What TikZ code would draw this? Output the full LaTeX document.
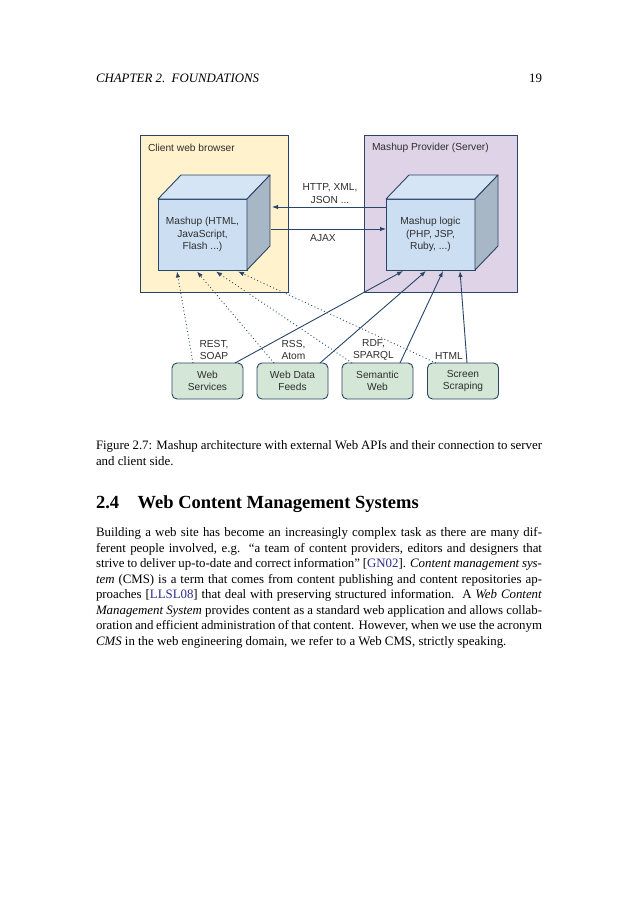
\documentclass[tikz,border=0pt]{standalone}
\usepackage{fontspec}
\setmainfont{Liberation Serif}
\setsansfont{Liberation Sans}
\usepackage{xcolor}
\usetikzlibrary{arrows.meta}

\definecolor{edgeblue}{HTML}{2A4568}
\definecolor{labelgray}{HTML}{2E2E2E}
\definecolor{clientfill}{HTML}{FFF2CC}
\definecolor{serverfill}{HTML}{DFD3E8}
\definecolor{cubefront}{HTML}{CCDFF2}
\definecolor{cubetop}{HTML}{D5E5F5}
\definecolor{cubeside}{HTML}{A8B7C6}
\definecolor{srcfill}{HTML}{D4E7D6}
\definecolor{citeblue}{HTML}{2B2B8C}

\newcommand{\jline}[1]{\makebox[446pt][s]{#1}}

\begin{document}
\begin{tikzpicture}[x=1pt,y=-1pt,
    every node/.style={inner sep=0pt,outer sep=0pt},
    lbl/.style={font=\sffamily\fontsize{10.2}{12.5}\selectfont,text=labelgray,align=center},
    area/.style={draw=edgeblue,line width=0.9pt},
    front/.style={lbl,draw=edgeblue,line width=0.9pt,fill=cubefront,
      minimum width=89pt,minimum height=71pt},
    src/.style={lbl,draw=edgeblue,line width=0.9pt,fill=srcfill,rounded corners=5pt,
      minimum width=71pt,minimum height=36pt},
    arr/.style={draw=edgeblue,line width=0.9pt,-{Latex[length=6pt,width=4.5pt]}},
    dots/.style={arr,dash pattern=on 0.9pt off 2.6pt},
    body/.style={font=\fontsize{12.86}{15.5}\selectfont,anchor=base west}]
  \useasboundingbox (0,0) rectangle (638,903);
  \fill[white] (0,0) rectangle (638,903);

  %%%%%%%%%%%%%%%%%%%%%%%%%%%%%%%%%%%%%%%%%%%%%%%%%%%%%%%%%%%%%%%%%%%%%%%%%%
  %%% BEGIN: PAGE HEAD.
  %%%%%%%%%%%%%%%%%%%%%%%%%%%%%%%%%%%%%%%%%%%%%%%%%%%%%%%%%%%%%%%%%%%%%%%%%%
  \node[body] (head) at (96,82.5) {\itshape CHAPTER 2.\ \ FOUNDATIONS};
  \node[body,anchor=base east] (pagenum) at (542,82.5) {19};
  %%%%%%%%%%%%%%%%%%%%%%%%%%%%%%%%%%%%%%%%%%%%%%%%%%%%%%%%%%%%%%%%%%%%%%%%%%
  %%% END: PAGE HEAD.
  %%%%%%%%%%%%%%%%%%%%%%%%%%%%%%%%%%%%%%%%%%%%%%%%%%%%%%%%%%%%%%%%%%%%%%%%%%

  %%%%%%%%%%%%%%%%%%%%%%%%%%%%%%%%%%%%%%%%%%%%%%%%%%%%%%%%%%%%%%%%%%%%%%%%%%
  %%% BEGIN: FIGURE.
  %%%%%%%%%%%%%%%%%%%%%%%%%%%%%%%%%%%%%%%%%%%%%%%%%%%%%%%%%%%%%%%%%%%%%%%%%%
  % Client and server areas.
  \filldraw[area,fill=clientfill] (140,135) rectangle (288,292);
  \filldraw[area,fill=serverfill] (364,135) rectangle (517,292);
  \node[lbl,anchor=west] (clientlbl) at (148,148) {Client web browser};
  \node[lbl,anchor=west] (serverlbl) at (372,148) {Mashup Provider (Server)};

  % Cubes.
  \node[front] (mashup) at (202.5,234.5) {Mashup (HTML,\\JavaScript,\\Flash ...)};
  \node[front] (logic) at (430.5,234.5) {Mashup logic\\(PHP, JSP,\\Ruby, ...)};
  \foreach \c in {mashup,logic}{
    \filldraw[draw=edgeblue,line width=0.9pt,fill=cubetop,line join=round]
      (\c.north west) -- ++(23,-24) -- ++(89,0) -- (\c.north east) -- cycle;
    \filldraw[draw=edgeblue,line width=0.9pt,fill=cubeside,line join=round]
      (\c.north east) -- ++(23,-24) -- ++(0,71) -- (\c.south east) -- cycle;
  }

  % Client <-> server.
  \draw[arr] ([yshift=27.5pt]logic.west) -- ([xshift=25pt,yshift=27.5pt]mashup.east);
  \draw[arr] ([xshift=24pt,yshift=5.5pt]mashup.east) -- ([yshift=5.5pt]logic.west);
  \node[lbl] (httplbl) at (330,193.5) {HTTP, XML,\\JSON ...};
  \node[lbl] (ajaxlbl) at (323,238) {AJAX};

  % External sources.
  \foreach \n/\x/\t in {ws/207.5/{Web\\Services},feeds/292.5/{Web Data\\Feeds},
      sem/377.5/{Semantic\\Web},scrap/463/{Screen\\Scraping}}{
    \node[src] (\n) at (\x,381) {\t};
  }
  \node[lbl] (restlbl) at (214,350) {REST,\\SOAP};
  \node[lbl] (rsslbl) at (293.5,350) {RSS,\\Atom};
  \node[lbl] (rdflbl) at (373.5,350) {RDF,\\SPARQL};
  \node[lbl] (htmllbl) at (449,356) {HTML};

  % Dotted to the client.
  \draw[dots] ([xshift=-14.5pt]ws.north) -- ([xshift=-25.5pt,yshift=-1.5pt]mashup.south);
  \draw[dots] ([xshift=-18.5pt]feeds.north) -- ([xshift=-5.5pt,yshift=-1.5pt]mashup.south);
  \draw[dots] ([xshift=-25.5pt]sem.north) -- ([xshift=13.5pt,yshift=-1.5pt]mashup.south);
  \draw[dots] ([xshift=-27pt]scrap.north) -- ([xshift=35.5pt,yshift=-1.5pt]mashup.south);

  % Solid to the server.
  \draw[arr] ([xshift=27.5pt]ws.north) -- ([xshift=-27.5pt,yshift=-1pt]logic.south);
  \draw[arr] ([xshift=27.5pt]feeds.north) -- ([xshift=-4.5pt,yshift=-1pt]logic.south);
  \draw[arr] ([xshift=22.5pt]sem.north) -- ([xshift=12.5pt,yshift=-1pt]logic.south);
  \draw[arr] ([xshift=4pt]scrap.north) -- ([xshift=29.5pt,yshift=-1pt]logic.south);
  %%%%%%%%%%%%%%%%%%%%%%%%%%%%%%%%%%%%%%%%%%%%%%%%%%%%%%%%%%%%%%%%%%%%%%%%%%
  %%% END: FIGURE.
  %%%%%%%%%%%%%%%%%%%%%%%%%%%%%%%%%%%%%%%%%%%%%%%%%%%%%%%%%%%%%%%%%%%%%%%%%%

  %%%%%%%%%%%%%%%%%%%%%%%%%%%%%%%%%%%%%%%%%%%%%%%%%%%%%%%%%%%%%%%%%%%%%%%%%%
  %%% BEGIN: TEXT.
  %%%%%%%%%%%%%%%%%%%%%%%%%%%%%%%%%%%%%%%%%%%%%%%%%%%%%%%%%%%%%%%%%%%%%%%%%%
  \node[body] (cap1) at (96,449.8) {\jline{Figure 2.7: Mashup architecture with external Web APIs and their connection to server}};
  \node[body] (cap2) at (96,465.5) {and client side.};

  \node[body,font=\bfseries\fontsize{18.5}{22}\selectfont] (secnum) at (96,508.3) {2.4};
  \node[body,font=\bfseries\fontsize{18.5}{22}\selectfont] (sectitle) at (137.7,508.3) {Web Content Management Systems};

  \node[body] (par1) at (96,536.5) {\jline{Building a web site has become an increasingly complex task as there are many dif-}};
  \node[body] (par2) at (96,552) {\jline{ferent people involved, e.g.\ \ “a team of content providers, editors and designers that}};
  \node[body] (par3) at (96,567.5) {\jline{strive to deliver up-to-date and correct information” [\textcolor{citeblue}{GN02}]. \textit{Content management sys-}}};
  \node[body] (par4) at (96,583) {\jline{\textit{tem} (CMS) is a term that comes from content publishing and content repositories ap-}};
  \node[body] (par5) at (96,598.5) {\jline{proaches [\textcolor{citeblue}{LLSL08}] that deal with preserving structured information.\ \ A \textit{Web Content}}};
  \node[body] (par6) at (96,614) {\jline{\textit{Management System} provides content as a standard web application and allows collab-}};
  \node[body] (par7) at (96,629.5) {\jline{oration and efficient administration of that content. However, when we use the acronym}};
  \node[body] (par8) at (96,645) {\textit{CMS} in the web engineering domain, we refer to a Web CMS, strictly speaking.};
  %%%%%%%%%%%%%%%%%%%%%%%%%%%%%%%%%%%%%%%%%%%%%%%%%%%%%%%%%%%%%%%%%%%%%%%%%%
  %%% END: TEXT.
  %%%%%%%%%%%%%%%%%%%%%%%%%%%%%%%%%%%%%%%%%%%%%%%%%%%%%%%%%%%%%%%%%%%%%%%%%%
\end{tikzpicture}
\end{document}
